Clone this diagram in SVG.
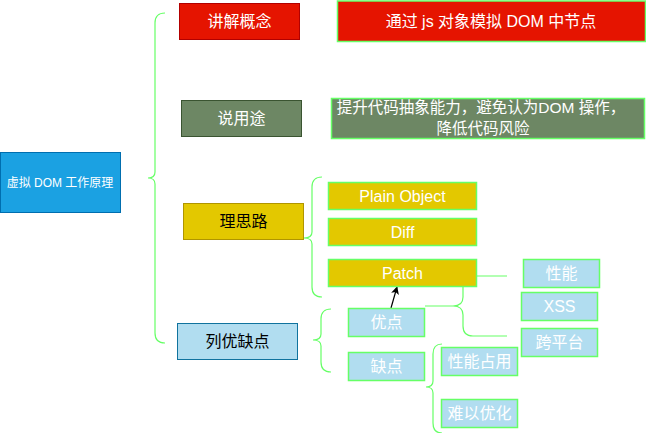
<svg xmlns="http://www.w3.org/2000/svg" width="646" height="433" viewBox="0 0 646 433">
<defs>
<marker id="arr" viewBox="0 0 10 10" refX="9" refY="5" markerWidth="8" markerHeight="8" orient="auto" markerUnits="userSpaceOnUse">
<path d="M0,0 L10,5 L0,10 L2.5,5 Z" fill="#000"/>
</marker>
</defs>
<style>
text{font-family:"Liberation Sans","Noto Sans CJK SC",sans-serif;font-size:16px;text-anchor:middle;dominant-baseline:central}
.w{fill:#fff}
.k{fill:#000}
.br{fill:none;stroke:#66ff66;stroke-width:1.2}
.g{stroke:#66ff66;stroke-width:1.5}
.lb{fill:#b1ddf0}
.yl{fill:#e3c800}
</style>
<g id="connectors">
<path class="br" d="M165,13 Q155,13 155,23 V172 Q155,178 148,178 Q155,178 155,184 V333 Q155,343 165,343"/>
<path class="br" d="M322,177 Q312,177 312,187 V232 Q312,238 304,238 Q312,238 312,244 V287 Q312,297 322,297"/>
<path class="br" d="M331,309 Q321,309 321,319 V334 Q321,340 313,340 Q321,340 321,346 V362 Q321,372 331,372"/>
<path class="br" d="M507,276 H473 Q463,276 463,286 V297 Q463,306 453,306 H425 M453,306 Q463,306 463,315 V326 Q463,336 473,336 H507"/>
<path class="br" d="M442,344 Q433,344 433,354 V381 Q433,387 426,387 Q433,387 433,393 V423 Q433,433 442,433"/>
<line x1="391" y1="308" x2="397" y2="287" stroke="#000" stroke-width="1.2" marker-end="url(#arr)"/>
</g>
<g id="root">
<rect x="0.5" y="152.5" width="120" height="60" fill="#1ba1e2" stroke="#006eaf"/>
<text x="60" y="182.5" class="w" style="font-size:12px">虚拟 DOM 工作原理</text>
</g>
<g id="concept">
<rect x="179.5" y="3.5" width="120" height="36" fill="#e51400" stroke="#b20000"/>
<text x="239.5" y="21.5" class="w">讲解概念</text>
</g>
<g id="concept-desc">
<rect x="337.5" y="1" width="308" height="40.5" fill="#e51400" class="g"/>
<text x="491" y="21" class="w">通过 js 对象模拟 DOM 中节点</text>
</g>
<g id="usage">
<rect x="181.5" y="100.5" width="120" height="36" fill="#6d8764" stroke="#3a5431"/>
<text x="241.5" y="118.5" class="w">说用途</text>
</g>
<g id="usage-desc">
<rect x="331.5" y="98.5" width="313" height="40" fill="#6d8764" class="g"/>
<text x="481" y="107.5" class="w" style="font-size:15.5px">提升代码抽象能力，避免认为DOM 操作，</text>
<text x="483" y="128.5" class="w" style="font-size:15.5px">降低代码风险</text>
</g>
<g id="idea">
<rect x="183.5" y="203.5" width="120" height="36" class="yl" stroke="#b09500"/>
<text x="243.5" y="221.5" class="k">理思路</text>
</g>
<g id="plain-object">
<rect x="328.5" y="182.5" width="148" height="27" class="yl g"/>
<text x="402.5" y="196" class="w">Plain Object</text>
</g>
<g id="diff">
<rect x="328.5" y="218.5" width="148" height="27" class="yl g"/>
<text x="402.5" y="232" class="w">Diff</text>
</g>
<g id="patch">
<rect x="328.5" y="259.5" width="148" height="27" class="yl g"/>
<text x="402.5" y="273" class="w">Patch</text>
</g>
<g id="pros-cons">
<rect x="177.5" y="323.5" width="120" height="36" class="lb" stroke="#10739e"/>
<text x="237.5" y="341.5" class="k">列优缺点</text>
</g>
<g id="pros">
<rect x="348.5" y="308.5" width="76" height="28" class="lb g"/>
<text x="386.5" y="322.5" class="w">优点</text>
</g>
<g id="cons">
<rect x="348.5" y="352.5" width="76" height="28" class="lb g"/>
<text x="386.5" y="366.5" class="w">缺点</text>
</g>
<g id="performance">
<rect x="523.5" y="259.5" width="76" height="28" class="lb g"/>
<text x="561.5" y="273.5" class="w">性能</text>
</g>
<g id="xss">
<rect x="521.5" y="292.5" width="76" height="28" class="lb g"/>
<text x="559.5" y="306.5" class="w">XSS</text>
</g>
<g id="cross-platform">
<rect x="521.5" y="328.5" width="76" height="28" class="lb g"/>
<text x="559.5" y="342.5" class="w">跨平台</text>
</g>
<g id="perf-cost">
<rect x="441.5" y="347.5" width="76" height="28" class="lb g"/>
<text x="479.5" y="361.5" class="w">性能占用</text>
</g>
<g id="hard-optimize">
<rect x="441.5" y="399.5" width="76" height="28" class="lb g"/>
<text x="479.5" y="413.5" class="w">难以优化</text>
</g>
</svg>
